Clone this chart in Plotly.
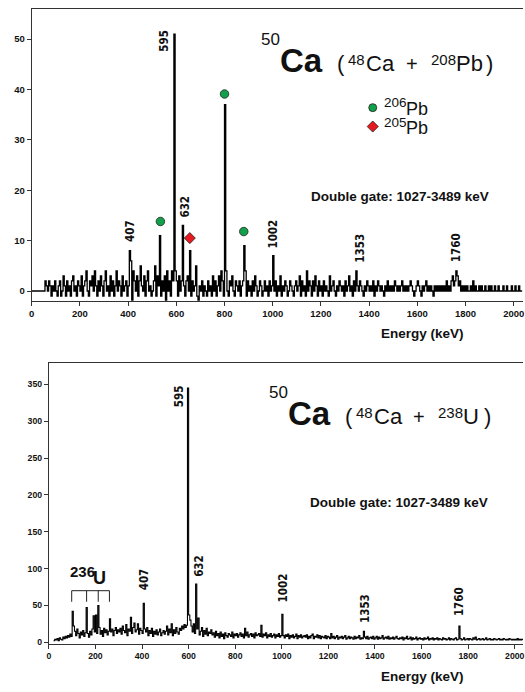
import plotly.graph_objects as go

W, H = 525, 692

# ---------------- DATA ----------------
# Top panel: 48Ca + 208Pb, counts per 5 keV bin starting at 0 keV
top_bin_start = 0
top_bin_width = 5
top_counts = [
    0, 0, 0, 0, 0, 0, 0, 0, 0, 0, 0, 2, 1, 0, 2, 1, -1, 1, 0, 2,          # 0-95
    0, -1, 1, 2, -1, 0, 3, 1, -1, 2, 0, 1, -1, 2, 3, 0, 1, -1, 2, 1,      # 100
    0, 3, -1, 1, 2, 4, 0, -1, 2, 1, 3, 0, 4, 1, -1, 2, 0, 3, 1, -1,       # 200
    2, 4, 0, 1, -1, 3, 0, 2, -1, 1, 4, 0, 2, 1, -1, 3, 0, 1, 2, -1,       # 300
    1, 8, 6, -2, 4, 2, 0, 3, -1, 2, 5, 1, 0, 3, -1, 2, 4, 0, 1, -1,       # 400
    0, 2, 5, -1, 3, 1, 11, -1, 2, 0, 3, -2, 4, 0, 2, -1, 4, 2, 51, 4,     # 500
    2, -1, 3, 0, 2, 13, 1, -1, 2, 3, 0, 8, -1, 2, 0, 1, 5, -1, -2, 1,     # 600
    0, 2, -1, 1, 0, -1, 2, 0, 1, -1, 3, 0, 2, -1, 1, 3, 0, 4, 2, -1,      # 700
    37, 4, 0, -1, 2, 1, 3, 0, -1, 2, 1, 0, 2, -1, 1, 2, 9, 4, -1, 2,      # 800
    0, 1, -1, 2, 0, 3, 1, -1, 0, 2, 1, -1, 0, 2, 0, 1, -1, 2, 0, 1,       # 900
    7, 0, 2, -1, 1, 0, 3, -1, 1, 0, 2, 1, -1, 0, 2, 1, 0, -1, 1, 2,       # 1000
    0, 1, 3, -1, 2, 0, 1, -1, 4, 0, 2, 1, -1, 2, 0, 3, 1, -1, 2, 0,       # 1100
    1, -1, 2, 0, 1, 0, -1, 3, 0, 1, 2, 0, -1, 1, 0, 2, 1, 0, 1, -1,       # 1200
    2, 0, 1, 3, 0, 1, -1, 2, 0, 4, 1, 0, 2, 1, 0, -1, 1, 0, 2, 1,         # 1300
    0, 1, 0, 2, -1, 1, 0, 2, 1, 0, 1, 0, -1, 1, 0, 2, 0, 1, 0, 1,         # 1400
    0, 2, 1, 0, 1, 0, 1, 2, 0, 1, 0, 1, 0, 1, 2, 1, 0, -1, 0, 1,          # 1500
    2, 1, 0, -1, 1, 0, 1, 2, 0, 1, 0, 1, 0, -1, 1, 0, 1, 0, 1, 0,         # 1600
    1, 0, 1, 0, 2, 0, 1, 0, 2, 3, 1, 2, 4, 3, 1, 2, 0, 1, 0, 1,           # 1700
    0, 1, 0, 0, 1, 0, 2, 0, 1, 0, 0, 1, 0, 1, 0, 0, 1, 0, 0, 1,           # 1800
    0, 1, 0, 0, 1, 0, 0, 1, 0, 0, 0, 1, 0, 0, 1, 0, 0, 0, 1, 0,           # 1900
    0, 1, 0, 0, 1, 0, 0, 0,                                               # 2000
]

# Bottom panel: 48Ca + 238U, counts per 5 keV bin starting at 20 keV
bot_bin_start = 20
bot_bin_width = 5
bot_counts = [
    2, 4, 3, 5, 2, 6, 4, 3, 7, 5, 8, 6, 9, 7, 11, 8,                         # 20-95
    42, 22, 15, 9, 18, 12, 6, 14, 10, 16, 8, 13, 47, 12, 7, 15, 10, 18, 36, 14,  # 100
    37, 12, 50, 20, 11, 16, 8, 19, 13, 17, 10, 15, 32, 14, 18, 9, 16, 20, 12, 17,  # 200
    14, 19, 11, 22, 16, 13, 24, 9, 18, 15, 34, 12, 20, 26, 14, 17, 25, 11, 19, 16,  # 300
    12, 53, 18, 14, 20, 9, 16, 12, 19, 8, 15, 11, 17, 10, 14, 18, 9, 13, 16, 11,    # 400
    15, 22, 10, 18, 13, 25, 9, 17, 12, 20, 14, 11, 19, 16, 22, 18, 24, 20, 23, 345,  # 500
    37, 30, 22, 14, 25, 12, 79, 18, 33, 10, 15, 20, 8, 16, 11, 19, 9, 14, 12, 17,   # 600
    10, 13, 7, 15, 9, 12, 6, 14, 8, 11, 5, 13, 9, 7, 12, 10, 8, 14, 6, 11,          # 700
    9, 12, 7, 10, 13, 8, 11, 6, 19, 9, 14, 7, 10, 12, 8, 11, 6, 13, 9, 10,          # 800
    12, 8, 23, 7, 11, 9, 13, 6, 10, 8, 12, 7, 9, 11, 6, 10, 8, 12, 7, 9,            # 900
    38, 9, 6, 10, 8, 11, 5, 9, 7, 10, 6, 8, 11, 5, 9, 7, 10, 6, 8, 9,               # 1000
    7, 10, 5, 8, 6, 9, 11, 5, 8, 7, 10, 6, 9, 5, 8, 7, 6, 9, 5, 8,                  # 1100
    7, 5, 12, 6, 8, 5, 7, 9, 4, 7, 6, 8, 5, 7, 9, 4, 6, 8, 5, 7,                    # 1200
    6, 4, 8, 5, 7, 6, 9, 4, 6, 5, 15, 7, 5, 8, 4, 6, 7, 5, 8, 4,                    # 1300
    6, 8, 4, 7, 5, 6, 9, 4, 6, 7, 5, 8, 4, 6, 5, 7, 4, 6, 8, 5,                     # 1400
    4, 6, 5, 7, 3, 6, 5, 8, 4, 5, 7, 3, 6, 4, 5, 7, 3, 5, 6, 4,                     # 1500
    5, 3, 6, 4, 5, 7, 3, 5, 4, 6, 3, 5, 4, 6, 3, 5, 4, 3, 6, 4,                     # 1600
    5, 3, 4, 6, 3, 5, 4, 3, 5, 6, 3, 4, 22, 5, 3, 4, 6, 3, 4, 5,                    # 1700
    3, 5, 4, 3, 6, 4, 7, 3, 4, 5, 3, 4, 5, 3, 4, 6, 3, 4, 5, 3,                     # 1800
    4, 3, 5, 4, 3, 4, 5, 3, 4, 3, 5, 4, 3, 4, 3, 5, 4, 3, 4, 3,                     # 1900
    4, 3, 5, 3, 4, 3, 4, 3,                                                        # 2000
]

# Contaminant markers (top panel)
pb206_energy = [534, 800, 880]
pb206_height = [13.8, 39.1, 11.8]
pb205_energy = [656]
pb205_height = [10.5]

# 236U lines bracketed in the bottom panel
u236_lines = [98, 162, 212, 260]

# Peak labels
top_peak_labels = ["595", "407", "632", "1002", "1353", "1760"]
bot_peak_labels = ["595", "632", "407", "1002", "1353", "1760"]

x_ticks = list(range(0, 2001, 200))
top_y_ticks = [0, 10, 20, 30, 40, 50]
bot_y_ticks = [0, 50, 100, 150, 200, 250, 300, 350]

# ---------------- LAYOUT GEOMETRY (pixels) ----------------
TOP_X0, TOP_KEV_PX = 29.0, 0.2433
TOP_Y0PX, TOP_PX_PER = 292.7, 5.068
TOP_TOP, TOP_BOT = 8.7, 302.5
BOT_X0, BOT_KEV_PX = 46.3, 0.2352
BOT_Y0PX, BOT_PX_PER = 646.0, 0.7409
BOT_TOP, BOT_BOT = 365.0, 647.5

FONT = "Liberation Sans, Arial, sans-serif"
NARROW = "Liberation Sans Narrow, DejaVu Sans Condensed, Liberation Sans, Arial"
AX = "#333333"

top_x = [top_bin_start + top_bin_width * i for i in range(len(top_counts))]
bot_x = [bot_bin_start + bot_bin_width * i for i in range(len(bot_counts))]

fig = go.Figure()
fig.add_trace(go.Scatter(x=top_x, y=top_counts, mode="lines",
                         line=dict(color="black", width=1.3, shape="hv"),
                         xaxis="x", yaxis="y", hoverinfo="skip"))
fig.add_trace(go.Scatter(x=bot_x, y=bot_counts, mode="lines",
                         line=dict(color="black", width=1.1, shape="hv"),
                         xaxis="x2", yaxis="y2", hoverinfo="skip"))

GREEN = "#13a04a"
RED = "#e8191f"
fig.add_trace(go.Scatter(x=pb206_energy, y=pb206_height, mode="markers",
                         marker=dict(symbol="circle", size=8.5, color=GREEN,
                                     line=dict(color="#222", width=0.8)),
                         xaxis="x", yaxis="y", hoverinfo="skip"))
fig.add_trace(go.Scatter(x=pb205_energy, y=pb205_height, mode="markers",
                         marker=dict(symbol="diamond", size=8.5, color=RED,
                                     line=dict(color="#222", width=0.8)),
                         xaxis="x", yaxis="y", hoverinfo="skip"))


# legend key symbols (positioned in pixels, converted to top-axis data space)
def top_data(px, py):
    return (px - TOP_X0) / TOP_KEV_PX, (TOP_Y0PX - py) / TOP_PX_PER


kx, ky1 = top_data(373.3, 108.3)
_, ky2 = top_data(373.3, 127.3)
fig.add_trace(go.Scatter(x=[kx], y=[ky1], mode="markers",
                         marker=dict(symbol="circle", size=8, color=GREEN,
                                     line=dict(color="#222", width=0.8)),
                         xaxis="x", yaxis="y", hoverinfo="skip"))
fig.add_trace(go.Scatter(x=[kx], y=[ky2], mode="markers",
                         marker=dict(symbol="diamond", size=8.5, color=RED,
                                     line=dict(color="#222", width=0.8)),
                         xaxis="x", yaxis="y", hoverinfo="skip"))

# 236U bracket
shapes = []
shapes.append(dict(type="line", xref="x2", yref="y2", x0=u236_lines[0], x1=u236_lines[-1],
                   y0=70, y1=70, line=dict(color="#222", width=1)))
for e in u236_lines:
    shapes.append(dict(type="line", xref="x2", yref="y2", x0=e, x1=e, y0=70, y1=55,
                       line=dict(color="#222", width=1)))

annotations = []


def txt(text, x, y, size, bold=False, angle=0, family=FONT, xanchor="center"):
    annotations.append(dict(
        text=f"<b>{text}</b>" if bold else text, x=x / W, y=1 - y / H,
        xref="paper", yref="paper", showarrow=False, textangle=angle,
        xanchor=xanchor, yanchor="middle", borderpad=0,
        font=dict(size=size, family=family, color="#111")))


def title(dx, dy, target, tsize):
    base = 72 + dy
    txt("50", 270 + dx, 46 + dy - 0.35 * 17, 17)
    txt("Ca", 301.5 + dx, base - 0.35 * 33, 33, bold=True)
    txt("(", 341 + dx, base - 0.35 * 22, 22)
    txt("48", 357 + dx, 65 + dy - 0.35 * 15, 15)
    txt("Ca", 381 + dx, base - 0.35 * 22, 22)
    txt("+", 412.5 + dx, base - 0.35 * 22, 20)
    txt(tsize[0], tsize[1] + dx, 65 + dy - 0.35 * 15, 15)
    txt(target[0], target[1] + dx, base - 0.35 * 22, 22)
    txt(")", target[2] + dx, base - 0.35 * 22, 22)


title(0, 0, ("Pb", 471, 491), ("208", 445))
title(8, 355, ("U", 464.5, 481), ("238", 443.5))

# legend texts
txt("206", 396, 108 - 0.35 * 13.5, 13.5)
txt("Pb", 417.5, 116 - 0.35 * 18, 18)
txt("205", 396, 128 - 0.35 * 13.5, 13.5)
txt("Pb", 418, 135 - 0.35 * 18, 18)

txt("Double gate: 1027-3489 keV", 400.5, 197.5, 13.5, bold=True)
txt("Double gate: 1027-3489 keV", 400, 505, 13.5, bold=True)
txt("Energy (keV)", 424, 335, 13.5, bold=True)
txt("Energy (keV)", 424, 680, 13.5, bold=True)

top_lab_pos = [(163, 40.5), (127.5, 232), (184, 207.5), (272.5, 235), (360, 249.5), (457.5, 249.5)]
for lab, (x, y) in zip(top_peak_labels, top_lab_pos):
    txt(lab, x, y, 11.5, bold=True, angle=-90, family=NARROW)
bot_lab_pos = [(177.7, 398.5), (198, 569), (142, 583), (283, 591.5), (366, 612), (460.5, 605.5)]
for lab, (x, y) in zip(bot_peak_labels, bot_lab_pos):
    txt(lab, x, y, 11.5, bold=True, angle=-90, family=NARROW)

txt("236", 80.5, 580 - 0.35 * 15, 15, bold=True)
txt("U", 97.5, 588 - 0.35 * 18, 18, bold=True)


def xaxis(domain, rng, anchor, size):
    return dict(domain=domain, range=rng, anchor=anchor, tickvals=x_ticks,
                ticks="outside", ticklen=4, tickwidth=1, tickcolor=AX,
                showline=True, linecolor=AX, linewidth=1, mirror=True,
                showgrid=False, zeroline=False, ticklabeloverflow="allow",
                tickfont=dict(size=size, family=FONT, color="#111", weight="bold"))


def yaxis(domain, rng, anchor, ticks, size):
    return dict(domain=domain, range=rng, anchor=anchor, tickvals=ticks,
                ticks="outside", ticklen=4, tickwidth=1, tickcolor=AX,
                showline=True, linecolor=AX, linewidth=1, mirror=False,
                showgrid=False, zeroline=False,
                tickfont=dict(size=size, family=FONT, color="#111", weight="bold"))


top_xr = [0, (W - TOP_X0) / TOP_KEV_PX]
top_yr = [(TOP_Y0PX - TOP_BOT) / TOP_PX_PER, (TOP_Y0PX - TOP_TOP) / TOP_PX_PER]
bot_xr = [0, (W - BOT_X0) / BOT_KEV_PX]
bot_yr = [(BOT_Y0PX - BOT_BOT) / BOT_PX_PER, (BOT_Y0PX - BOT_TOP) / BOT_PX_PER]

fig.update_layout(
    width=W, height=H, margin=dict(l=0, r=0, t=0, b=0),
    paper_bgcolor="white", plot_bgcolor="white", showlegend=False,
    xaxis=xaxis([TOP_X0 / W, 1], top_xr, "y", 9.5),
    yaxis=yaxis([1 - TOP_BOT / H, 1 - TOP_TOP / H], top_yr, "x", top_y_ticks, 9.5),
    xaxis2=xaxis([BOT_X0 / W, 1], bot_xr, "y2", 8.7),
    yaxis2=yaxis([1 - BOT_BOT / H, 1 - BOT_TOP / H], bot_yr, "x2", bot_y_ticks, 8.7),
    shapes=shapes, annotations=annotations,
)

fig.write_html("out.html", config={"displayModeBar": False},
               post_script="document.body.style.margin='0';"
                           "document.body.style.overflow='hidden';")
